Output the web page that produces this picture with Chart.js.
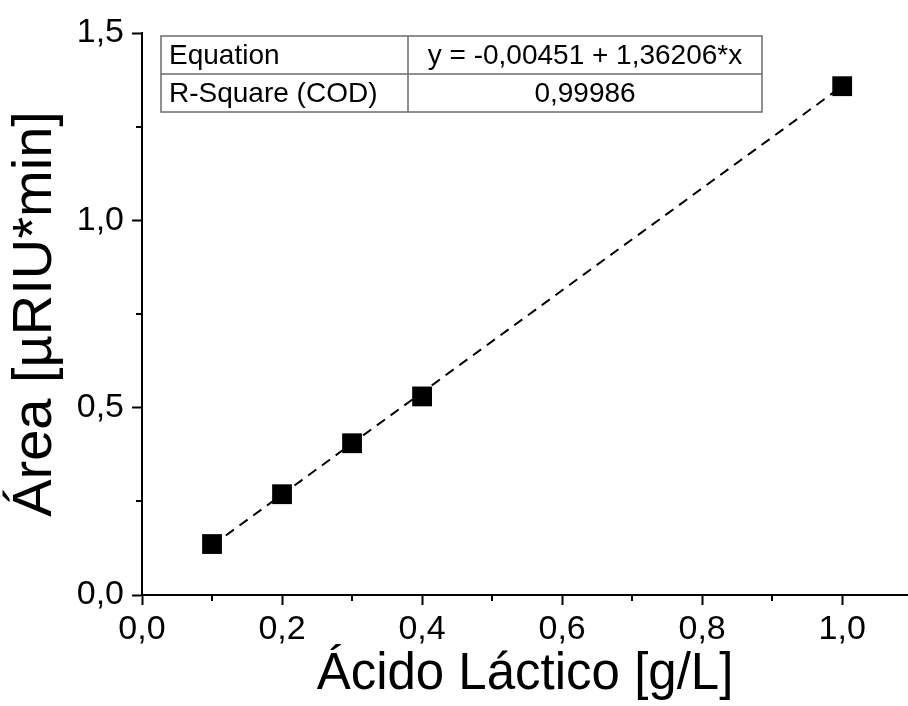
<!DOCTYPE html>
<html>
<head>
<meta charset="utf-8">
<script src="https://cdn.jsdelivr.net/npm/chart.js@4/dist/chart.umd.min.js"></script>
<style>
  html, body { margin: 0; padding: 0; background: #ffffff; overflow: hidden; }
  #wrap { width: 908px; height: 706px; }
  canvas { display: block; }
</style>
</head>
<body>
<div id="wrap"><canvas id="c" width="908" height="706"></canvas></div>
<script>
// ---- data ----
const concentrations = [0.1, 0.2, 0.3, 0.4, 1.0];            // Ácido Láctico [g/L]
const areas          = [0.136, 0.269, 0.405, 0.530, 1.358];  // Área [µRIU*min]
const fitX           = [0.1, 1.0];                            // fit line end points
const fitY           = [0.132, 1.358];
const xTickLabels    = ['0,0', '0,2', '0,4', '0,6', '0,8', '1,0'];
const yTickLabels    = ['0,0', '0,5', '1,0', '1,5'];
const tableRows      = [
  ['Equation', 'y = -0,00451 + 1,36206*x'],
  ['R-Square (COD)', '0,99986']
];
const xTitle = 'Ácido Láctico [g/L]';
const yTitle = 'Área [µRIU*min]';

const FONT = "'Liberation Sans', Arial, sans-serif";

const scatterPts = concentrations.map((x, i) => ({ x: x, y: areas[i] }));
const fitPts = fitX.map((x, i) => ({ x: x, y: fitY[i] }));

function isMajor(v, step) {
  const r = v / step;
  return Math.abs(r - Math.round(r)) < 1e-6;
}

// minor ticks + table plugin
const extras = {
  id: 'extras',
  afterDraw(chart) {
    const ctx = chart.ctx;
    const xs = chart.scales.x, ys = chart.scales.y;
    ctx.save();
    ctx.strokeStyle = '#000';
    ctx.lineWidth = 2;
    // minor ticks x
    for (let v = 0.1; v < 1.09; v += 0.2) {
      const px = Math.round(xs.getPixelForValue(v));
      ctx.beginPath();
      ctx.moveTo(px, xs.top);
      ctx.lineTo(px, xs.top + 6);
      ctx.stroke();
    }
    // minor ticks y
    for (let v = 0.25; v < 1.5; v += 0.5) {
      const py = Math.round(ys.getPixelForValue(v));
      ctx.beginPath();
      ctx.moveTo(ys.right, py);
      ctx.lineTo(ys.right - 6, py);
      ctx.stroke();
    }
    // table
    const ca = chart.chartArea;
    const left = ca.left + 19, top = ca.top + 3;
    const colW = [247, 354];
    const rowH = 38;
    ctx.strokeStyle = '#6b6b6b';
    ctx.lineWidth = 1.5;
    ctx.strokeRect(left, top, colW[0] + colW[1], rowH * 2);
    ctx.beginPath();
    ctx.moveTo(left, top + rowH); ctx.lineTo(left + colW[0] + colW[1], top + rowH);
    ctx.moveTo(left + colW[0], top); ctx.lineTo(left + colW[0], top + rowH * 2);
    ctx.stroke();
    ctx.fillStyle = '#000';
    ctx.font = '28px ' + FONT;
    ctx.textBaseline = 'middle';
    tableRows.forEach((row, i) => {
      const cy = top + rowH * i + rowH / 2 + 1;
      ctx.textAlign = 'left';
      ctx.fillText(row[0], left + 8, cy);
      ctx.textAlign = 'center';
      ctx.fillText(row[1], left + colW[0] + colW[1] / 2, cy);
    });
    ctx.restore();
  }
};

new Chart(document.getElementById('c'), {
  type: 'scatter',
  data: {
    datasets: [
      {
        type: 'scatter',
        data: scatterPts,
        pointStyle: 'rect',
        pointRadius: 14,
        pointHoverRadius: 14,
        backgroundColor: '#000',
        borderColor: '#000',
        borderWidth: 0,
        order: 0,
        clip: false
      },
      {
        type: 'line',
        data: fitPts,
        borderColor: '#000',
        borderWidth: 2,
        borderDash: [10, 7],
        pointRadius: 0,
        fill: false,
        order: 1
      }
    ]
  },
  options: {
    responsive: false,
    animation: false,
    events: [],
    layout: { autoPadding: false, padding: { top: 33, right: 0, left: 0, bottom: 0 } },
    plugins: { legend: { display: false }, tooltip: { enabled: false } },
    scales: {
      x: {
        type: 'linear',
        min: 0,
        max: 1.094,
        afterFit(s) { s.height = 111; s.paddingRight = 0; s.paddingLeft = 0; },
        border: { display: true, color: '#000', width: 2 },
        grid: {
          drawOnChartArea: false,
          drawTicks: true,
          tickLength: 10,
          tickWidth: 2,
          tickColor: (c) => isMajor(c.tick.value, 0.2) ? '#000' : 'rgba(0,0,0,0)'
        },
        ticks: {
          stepSize: 0.1,
          includeBounds: false,
          autoSkip: false,
          maxRotation: 0,
          padding: 4,
          color: '#000',
          font: { family: FONT, size: 34 },
          callback: (v) => isMajor(v, 0.2) ? xTickLabels[Math.round(v / 0.2)] : ''
        },
        title: {
          display: true,
          text: xTitle,
          color: '#000',
          font: { family: FONT, size: 51 },
          padding: { top: 0, bottom: 0 }
        }
      },
      y: {
        type: 'linear',
        min: 0,
        max: 1.5,
        afterFit(s) { s.width = 142; },
        border: { display: true, color: '#000', width: 2 },
        grid: {
          drawOnChartArea: false,
          drawTicks: true,
          tickLength: 10,
          tickWidth: 2,
          tickColor: (c) => isMajor(c.tick.value, 0.5) ? '#000' : 'rgba(0,0,0,0)'
        },
        ticks: {
          stepSize: 0.25,
          includeBounds: false,
          autoSkip: false,
          padding: 8,
          color: '#000',
          font: { family: FONT, size: 34 },
          callback: (v) => isMajor(v, 0.5) ? yTickLabels[Math.round(v / 0.5)] : ''
        },
        title: {
          display: true,
          text: yTitle,
          color: '#000',
          font: { family: FONT, size: 56 },
          padding: { top: 2, bottom: 0 }
        }
      }
    }
  },
  plugins: [extras]
});
</script>
</body>
</html>
